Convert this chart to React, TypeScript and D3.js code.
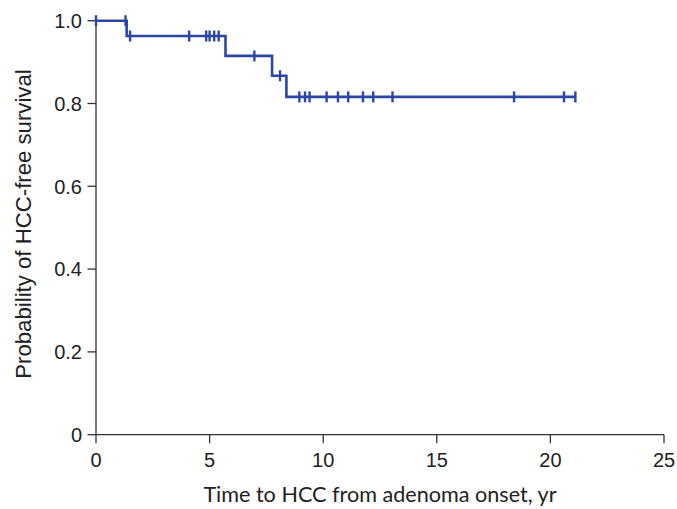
import React from 'react';
import * as d3 from 'd3';

// step points of the KM curve (time in years, survival)
const eventTimes = [0, 1.35, 5.7, 7.75, 8.38];
const survivalLevels = [1.0, 0.963, 0.915, 0.867, 0.816];
const curveEnd = 21.1;
// censored observations
const censorTimes = [0, 1.3, 1.5, 4.1, 4.85, 5.0, 5.2, 5.4, 6.97, 8.1, 8.95, 9.2, 9.4, 10.15, 10.65, 11.1, 11.75, 12.2, 13.05, 18.4, 20.6, 21.1];
const xTicks = [0, 5, 10, 15, 20, 25];
const yTicks = [0, 0.2, 0.4, 0.6, 0.8, 1.0];
const yTickLabels = ['0', '0.2', '0.4', '0.6', '0.8', '1.0'];

const WIDTH = 677;
const HEIGHT = 509;
const margin = { top: 20.7, right: 13, bottom: 74.3, left: 96 };
const lineColor = '#2b46a3';
const font = '"Liberation Sans", Arial, sans-serif';
const titleFont = 'Lato, "Open Sans", sans-serif';

function survivalAt(t: number) {
    let s = survivalLevels[0];
    for (let i = 0; i < eventTimes.length; i++) {
        if (eventTimes[i] <= t) s = survivalLevels[i];
    }
    return s;
}

export default function App() {
    const x = d3.scaleLinear().domain([0, 25]).range([margin.left, WIDTH - margin.right]);
    const y = d3.scaleLinear().domain([0, 1]).range([HEIGHT - margin.bottom, margin.top]);

    const pts: [number, number][] = eventTimes.map((t, i) => [t, survivalLevels[i]]);
    pts.push([curveEnd, survivalLevels[survivalLevels.length - 1]]);

    const line = d3.line<[number, number]>()
        .x(d => x(d[0]))
        .y(d => y(d[1]))
        .curve(d3.curveStepAfter);

    const x0 = x(0);
    const y0 = y(0);

    return (
        <svg width={WIDTH} height={HEIGHT} style={{ position: 'absolute', left: 0, top: 0, background: '#fff' }}>
            {/* axes */}
            <g stroke="#333" strokeWidth={1.3} fill="none">
                <line x1={x0} x2={x0} y1={y(1)} y2={y0} />
                <line x1={x0} x2={x(25)} y1={y0} y2={y0} />
                {yTicks.map(t => (
                    <line key={'yt' + t} x1={x0 - 8.5} x2={x0} y1={y(t)} y2={y(t)} />
                ))}
                {xTicks.map(t => (
                    <line key={'xt' + t} x1={x(t)} x2={x(t)} y1={y0} y2={y0 + 8.5} />
                ))}
            </g>
            <g fontFamily={font} fontSize={20} fill="#222">
                {yTicks.map((t, i) => (
                    <text key={'yl' + t} x={x0 - 14} y={y(t)} dy="0.36em" textAnchor="end">{yTickLabels[i]}</text>
                ))}
                {xTicks.map(t => (
                    <text key={'xl' + t} x={x(t)} y={y0 + 32} textAnchor="middle">{t}</text>
                ))}
            </g>
            <text x={380} y={502} textAnchor="middle" fontFamily={titleFont} fontSize={21.6} fill="#222">
                Time to HCC from adenoma onset, yr
            </text>
            <text transform={`translate(31, 224) rotate(-90)`} textAnchor="middle"
                fontFamily={font} fontSize={22.2} fill="#222">
                Probability of HCC-free survival
            </text>
            {/* KM curve */}
            <path d={line(pts) || ''} fill="none" stroke={lineColor} strokeWidth={2.6} />
            <g stroke={lineColor} strokeWidth={2.4}>
                {censorTimes.map((t, i) => (
                    <line key={'c' + i} x1={x(t)} x2={x(t)} y1={y(survivalAt(t)) - 5.5} y2={y(survivalAt(t)) + 5.5} />
                ))}
            </g>
        </svg>
    );
}
